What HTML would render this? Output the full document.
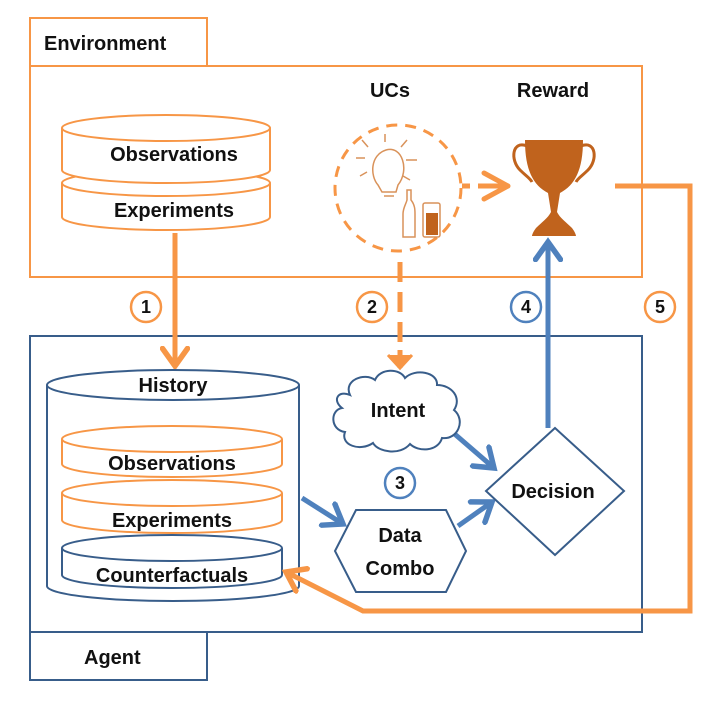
<!DOCTYPE html>
<html><head><meta charset="utf-8"><style>
html,body{margin:0;padding:0;background:#fff;}
svg{display:block;}
text{font-family:"Liberation Sans",sans-serif;font-weight:bold;fill:#111;}
</style></head><body>
<svg width="714" height="706" viewBox="0 0 714 706" xmlns="http://www.w3.org/2000/svg">
<defs>
<marker id="ao" markerWidth="6" markerHeight="6" refX="4" refY="3" orient="auto" markerUnits="strokeWidth"><path d="M0.5,0.5 L4,3 L0.5,5.5" fill="none" stroke="#F79646" stroke-width="1.1" stroke-linecap="round"/></marker>
<marker id="ab" markerWidth="6" markerHeight="6" refX="4" refY="3" orient="auto" markerUnits="strokeWidth"><path d="M0.5,0.5 L4,3 L0.5,5.5" fill="none" stroke="#4F81BD" stroke-width="1.1" stroke-linecap="round"/></marker>
</defs>
<!-- Environment -->
<rect x="30" y="18" width="177" height="48" fill="#fff" stroke="#F79646" stroke-width="2"/>
<text x="44" y="50" font-size="20">Environment</text>
<rect x="30" y="66" width="612" height="211" fill="none" stroke="#F79646" stroke-width="2"/>
<!-- top cylinder -->
<g fill="#fff" stroke="#F79646" stroke-width="2">
<path d="M62,183 L62,217 A104,13 0 0 0 270,217 L270,183"/>
<ellipse cx="166" cy="183" rx="104" ry="13"/>
<path d="M62,128 L62,170 A104,13 0 0 0 270,170 L270,128"/>
<ellipse cx="166" cy="128" rx="104" ry="13"/>
</g>
<text x="174" y="161" font-size="20" text-anchor="middle">Observations</text>
<text x="174" y="217" font-size="20" text-anchor="middle">Experiments</text>
<!-- UCs -->
<text x="390" y="97" font-size="20" text-anchor="middle">UCs</text>
<circle cx="398" cy="188" r="63" fill="none" stroke="#F79646" stroke-width="3" stroke-dasharray="11,8"/>
<g stroke="#D9925A" stroke-width="1.5" fill="none">
<path d="M378,185 C370,176 370,155 386,150 C402,145 410,170 398,185 L396,192 L382,192 Z"/>
<path d="M384,196 L394,196"/>
<path d="M385,134 L385,142 M362,140 L368,147 M356,158 L365,158 M360,176 L367,172 M407,140 L401,147 M406,160 L417,160 M403,176 L410,180"/>
<path d="M407,190 L411,190 L411,200 C415,205 415,210 415,214 L415,237 L403,237 L403,214 C403,208 406,204 407,200 Z"/>
<rect x="423" y="203" width="17" height="34" rx="2"/>
</g>
<rect x="426" y="213" width="12" height="22" fill="#C0631D"/>
<!-- dashed arrow to trophy -->
<path d="M462,186 L470,186 M478,186 L508,186" stroke="#F79646" stroke-width="5" fill="none"/>
<path d="M484,173 L508,186 L484,199" stroke="#F79646" stroke-width="5" fill="none" stroke-linecap="round" stroke-linejoin="round"/>
<!-- Reward -->
<text x="553" y="97" font-size="20" text-anchor="middle">Reward</text>
<g fill="#C0631D">
<path d="M525,140 L583,140 C583,170 575,185 560,193 L557,212 C560,218 566,222 572,228 C575,232 576,235 576,236 L532,236 C532,235 533,232 536,228 C542,222 548,218 551,212 L548,193 C533,185 525,170 525,140 Z"/>
</g>
<g stroke="#C0631D" stroke-width="3" fill="none">
<path d="M527,146 C512,140 510,160 520,170 C526,176 530,178 532,182"/>
<path d="M581,146 C596,140 598,160 588,170 C582,176 578,178 576,182"/>
</g>
<!-- Agent -->
<rect x="30" y="336" width="612" height="296" fill="none" stroke="#385D8A" stroke-width="2"/>
<rect x="30" y="632" width="177" height="48" fill="#fff" stroke="#385D8A" stroke-width="2"/>
<text x="84" y="664" font-size="20">Agent</text>
<!-- arrow 1 -->
<path d="M175,233 L175,366" stroke="#F79646" stroke-width="5" fill="none" marker-end="url(#ao)"/>
<!-- arrow 2 dashed -->
<path d="M400,262 L400,282 M400,292 L400,312 M400,322 L400,342 M400,350 L400,368" stroke="#F79646" stroke-width="5" fill="none"/>
<path d="M388,355 L400,368 L412,355" fill="#F79646" stroke="#F79646" stroke-width="3"/>
<!-- arrow 4 -->
<path d="M548,428 L548,242" stroke="#4F81BD" stroke-width="5" fill="none" marker-end="url(#ab)"/>
<!-- number circles -->
<g stroke-width="2.5" fill="#fff">
<circle cx="146" cy="307" r="15" stroke="#F79646"/>
<circle cx="372" cy="307" r="15" stroke="#F79646"/>
<circle cx="526" cy="307" r="15" stroke="#4F81BD"/>
<circle cx="660" cy="307" r="15" stroke="#F79646"/>
<circle cx="400" cy="483" r="15" stroke="#4F81BD"/>
</g>
<g font-size="18" text-anchor="middle">
<text x="146" y="313">1</text><text x="372" y="313">2</text><text x="526" y="313">4</text><text x="660" y="313">5</text><text x="400" y="489">3</text>
</g>
<!-- History cylinder -->
<path d="M47,385 L47,586 A126,15 0 0 0 299,586 L299,385" fill="#fff" stroke="#385D8A" stroke-width="2"/>
<ellipse cx="173" cy="385" rx="126" ry="15" fill="#fff" stroke="#385D8A" stroke-width="2"/>
<text x="173" y="392" font-size="20" text-anchor="middle">History</text>
<g fill="#fff" stroke-width="2">
<path d="M62,548 L62,575 A110,13 0 0 0 282,575 L282,548" stroke="#385D8A"/>
<ellipse cx="172" cy="548" rx="110" ry="13" stroke="#385D8A"/>
<path d="M62,493 L62,520 A110,13 0 0 0 282,520 L282,493" stroke="#F79646"/>
<ellipse cx="172" cy="493" rx="110" ry="13" stroke="#F79646"/>
<path d="M62,439 L62,464 A110,13 0 0 0 282,464 L282,439" stroke="#F79646"/>
<ellipse cx="172" cy="439" rx="110" ry="13" stroke="#F79646"/>
</g>
<text x="172" y="470" font-size="20" text-anchor="middle">Observations</text>
<text x="172" y="527" font-size="20" text-anchor="middle">Experiments</text>
<text x="172" y="582" font-size="20" text-anchor="middle">Counterfactuals</text>
<!-- feedback line 5 -->
<path d="M615,186 L690,186 L690,611 L363,611 L286,572" fill="none" stroke="#F79646" stroke-width="5" marker-end="url(#ao)"/>
<!-- blue arrows -->
<path d="M302,498 L343,524" stroke="#4F81BD" stroke-width="5" fill="none" marker-end="url(#ab)"/>
<path d="M450,430 L494,468" stroke="#4F81BD" stroke-width="5" fill="none" marker-end="url(#ab)"/>
<path d="M458,526 L492,502" stroke="#4F81BD" stroke-width="5" fill="none" marker-end="url(#ab)"/>
<!-- cloud -->
<path d="M350,395 C343,380 365,372 375,380 C380,368 400,368 405,378 C415,368 438,372 437,385 C452,385 462,398 454,410 C466,420 458,440 442,438 C438,452 418,452 410,444 C400,456 378,452 373,443 C360,452 340,445 345,432 C330,430 330,410 342,408 C332,400 338,390 350,395 Z" fill="#fff" stroke="#385D8A" stroke-width="2"/>
<text x="398" y="417" font-size="20" text-anchor="middle">Intent</text>
<!-- hexagon -->
<polygon points="356,510 446,510 466,551 446,592 356,592 335,551" fill="#fff" stroke="#385D8A" stroke-width="2"/>
<text x="400" y="542" font-size="20" text-anchor="middle">Data</text>
<text x="400" y="575" font-size="20" text-anchor="middle">Combo</text>
<!-- diamond -->
<polygon points="555,428 624,491 555,555 486,491" fill="#fff" stroke="#385D8A" stroke-width="2"/>
<text x="553" y="498" font-size="20" text-anchor="middle">Decision</text>
</svg>
</body></html>
